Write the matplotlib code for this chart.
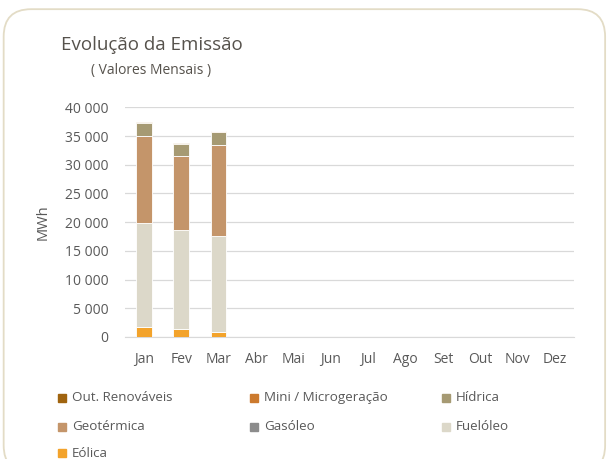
import matplotlib
matplotlib.use("Agg")
import matplotlib.pyplot as plt
from matplotlib.patches import FancyBboxPatch
import numpy as np

plt.rcParams['font.family'] = ['Open Sans', 'DejaVu Sans']

months = ["Jan", "Fev", "Mar", "Abr", "Mai", "Jun", "Jul", "Ago", "Set", "Out", "Nov", "Dez"]
eolica = [1700, 1350, 900]
fueloleo = [18100, 17300, 16700]
gasoleo = [0, 0, 0]
geotermica = [15200, 12950, 15900]
hidrica = [2200, 2000, 2300]
mini_micro = [60, 50, 50]
out_renov = [120, 110, 100]

series = [
    ("Eólica", eolica, "#f3a32b"),
    ("Fuelóleo", fueloleo, "#dcd8c9"),
    ("Gasóleo", gasoleo, "#8c8c8c"),
    ("Geotérmica", geotermica, "#c4956a"),
    ("Hídrica", hidrica, "#a69a73"),
    ("Mini / Microgeração", mini_micro, "#cc7a2e"),
    ("Out. Renováveis", out_renov, "#a0640f"),
]

fig = plt.figure(figsize=(6.1, 4.59), dpi=100)
border = FancyBboxPatch((0.006, -0.03), 0.986, 1.01, boxstyle="round,pad=0,rounding_size=0.045",
                        transform=fig.transFigure, fill=False, edgecolor="#e3dcc6", linewidth=1.3,
                        mutation_aspect=610/459)
fig.patches.append(border)

ax = fig.add_axes([0.205, 0.266, 0.736, 0.5])
x = np.arange(len(months))
bottom = np.zeros(3)
for name, vals, col in series:
    ax.bar(x[:3], vals, 0.42, bottom=bottom, color=col, edgecolor="white", linewidth=0.6, zorder=3)
    bottom += np.array(vals)

ax.set_xlim(-0.5, 11.5)
ax.set_ylim(0, 40000)
ax.set_yticks(np.arange(0, 40001, 5000))
ax.set_yticklabels([f"{v:,}".replace(",", " ") for v in range(0, 40001, 5000)])
ax.set_xticks(x)
ax.set_xticklabels(months)
ax.tick_params(axis='both', length=0, colors="#595959", labelsize=10)
ax.tick_params(axis='x', pad=11)
ax.tick_params(axis='y', pad=12)
ax.grid(axis='y', color="#d9d9d9", linewidth=0.9, zorder=0)
for s in ["top", "right", "left"]:
    ax.spines[s].set_visible(False)
ax.spines["bottom"].set_color("#d9d9d9")
ax.set_ylabel("MWh", color="#595959", fontsize=10.5, labelpad=10)

fig.text(0.1, 0.903, "Evolução da Emissão", fontsize=13.5, color="#56524c", va="center")
fig.text(0.149, 0.847, "( Valores Mensais )", fontsize=10, color="#56524c", va="center")

legend_order = [
    ("Out. Renováveis", "#a0640f"),
    ("Mini / Microgeração", "#cc7a2e"),
    ("Hídrica", "#a69a73"),
    ("Geotérmica", "#c4956a"),
    ("Gasóleo", "#8c8c8c"),
    ("Fuelóleo", "#dcd8c9"),
    ("Eólica", "#f3a32b"),
]
xs = [0.095, 0.41, 0.725]
ys = [0.133, 0.07, 0.013]
for i, (name, col) in enumerate(legend_order):
    r, c = divmod(i, 3)
    fig.patches.append(plt.Rectangle((xs[c], ys[r] - 0.0095), 0.0135, 0.018,
                                     transform=fig.transFigure, color=col))
    fig.text(xs[c] + 0.0225, ys[r], name, fontsize=9.6, color="#595959", va="center")

fig.savefig("out.png", dpi=100)
